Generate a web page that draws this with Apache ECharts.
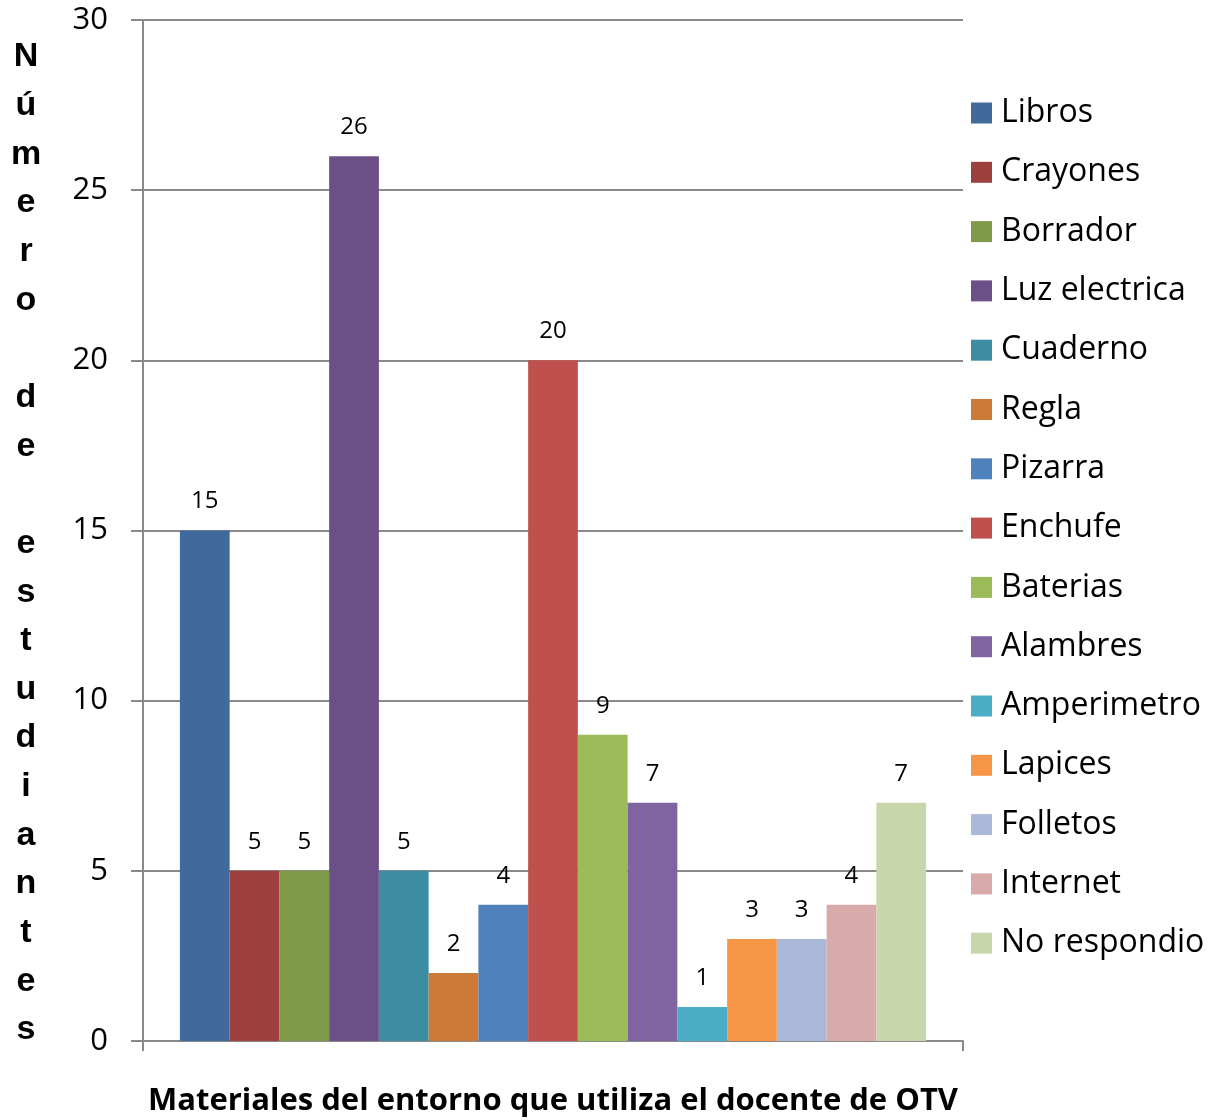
<!DOCTYPE html>
<html lang="es">
<head>
    <meta charset="UTF-8">
    <title>Materiales del entorno</title>
    <script src="https://cdn.jsdelivr.net/npm/echarts@6/dist/echarts.min.js"></script>
    <style>
        html, body { margin: 0; padding: 0; background: #fff; }
    </style>
</head>
<body>
    <div id="main" style="width: 1220px;height:1120px;"></div>
    <script>
        // datos
        const materiales = ['Libros', 'Crayones', 'Borrador', 'Luz electrica', 'Cuaderno', 'Regla', 'Pizarra',
            'Enchufe', 'Baterias', 'Alambres', 'Amperimetro', 'Lapices', 'Folletos', 'Internet', 'No respondio'];
        const estudiantes = [15, 5, 5, 26, 5, 2, 4, 20, 9, 7, 1, 3, 3, 4, 7];
        const colores = ['#406a9b', '#9e413e', '#7f9a48', '#6a5086', '#3c8da4', '#cb7a37', '#4f81bd',
            '#c0504d', '#9bbb59', '#8064a2', '#4bacc6', '#f79646', '#aab9d7', '#d9aaaa', '#c7d6ab'];
        const yTicks = [0, 5, 10, 15, 20, 25, 30];

        const tituloY = 'Número de estudiantes';
        const tituloX = 'Materiales del entorno que utiliza el docente de OTV';

        var chartDom = document.getElementById('main');
        var myChart = echarts.init(chartDom);

        const axisGray = '#8a8a8a';
        const fontMain = '"Open Sans", Calibri, sans-serif';
        const fontY = '"Liberation Sans", Arial, sans-serif';

        // una letra por linea, con una linea vacia arriba para bajar el bloque
        const nombreY = '{pad| }\n' + tituloY.split('').map(c => '{l|' + c + '}').join('\n');

        var option = {
            animation: false,
            color: colores,
            grid: { left: 143, right: 257, top: 20, bottom: 79, outerBoundsMode: 'none', containLabel: false },
            legend: {
                orient: 'vertical',
                left: 971,
                top: 97,
                padding: 0,
                itemWidth: 21,
                itemHeight: 21,
                itemGap: 27.3,
                icon: 'rect',
                textStyle: { fontFamily: fontMain, fontSize: 32, color: '#000', padding: [0, 0, 0, 4] },
                data: materiales
            },
            xAxis: {
                type: 'category',
                data: [''],
                axisLine: { lineStyle: { color: axisGray, width: 2 } },
                axisTick: { show: true, length: 10, lineStyle: { color: axisGray, width: 2 } },
                axisLabel: { show: false },
                name: tituloX,
                nameLocation: 'middle',
                nameGap: 45,
                nameTextStyle: { fontFamily: fontMain, fontWeight: 'bold', fontSize: 31, color: '#000' }
            },
            yAxis: {
                type: 'value',
                min: 0,
                max: 30,
                interval: 5,
                axisLine: { show: true, lineStyle: { color: axisGray, width: 2 } },
                axisTick: { show: true, length: 12, lineStyle: { color: axisGray, width: 2 } },
                splitLine: { lineStyle: { color: axisGray, width: 2 } },
                axisLabel: {
                    margin: 35,
                    fontFamily: fontMain,
                    fontSize: 31,
                    color: '#000',
                    formatter: v => yTicks.includes(v) ? String(v) : ''
                },
                name: nombreY,
                nameLocation: 'middle',
                nameRotate: 0,
                nameGap: 117,
                nameTextStyle: {
                    align: 'center',
                    verticalAlign: 'middle',
                    rich: {
                        pad: { fontSize: 10, lineHeight: 26 },
                        l: {
                            fontFamily: fontY,
                            fontWeight: 'bold',
                            fontSize: 34,
                            lineHeight: 48.65,
                            color: '#000',
                            align: 'center'
                        }
                    }
                }
            },
            series: materiales.map((m, i) => ({
                name: m,
                type: 'bar',
                barGap: '0%',
                barCategoryGap: '9%',
                data: [estudiantes[i]],
                itemStyle: { color: colores[i] },
                label: {
                    show: true,
                    position: 'top',
                    distance: 17,
                    fontFamily: fontMain,
                    fontSize: 24,
                    color: '#000'
                }
            }))
        };

        myChart.setOption(option);
    </script>
</body>
</html>
